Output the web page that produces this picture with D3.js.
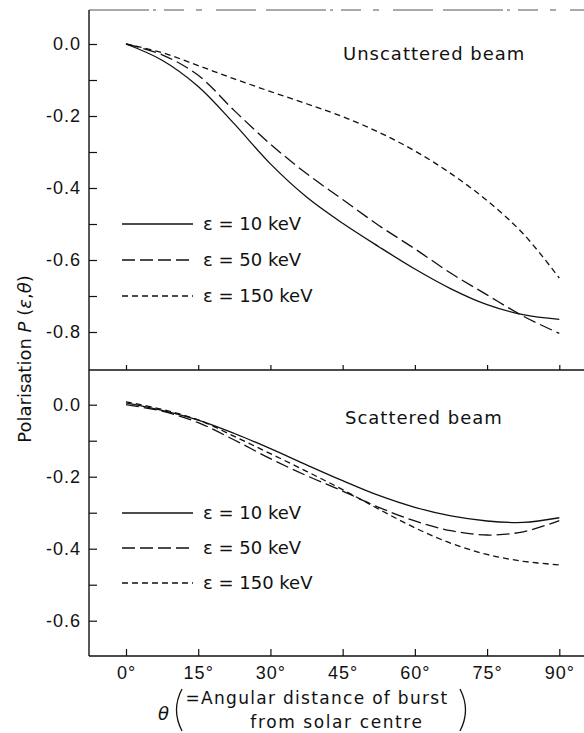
<!doctype html>
<html lang="en">
<head>
<meta charset="utf-8">
<title>Polarisation P(ε,θ)</title>
<script src="https://cdn.jsdelivr.net/npm/d3@7"></script>
<style>
  html, body { margin: 0; padding: 0; background: #fff; }
  svg { display: block; font-family: "DejaVu Sans", sans-serif; }
  .tick text { font-size: 18px; fill: #111; letter-spacing: 1px; }
  .tick line { stroke: #111; stroke-width: 1.2; }
</style>
</head>
<body>
<svg id="chart" width="584" height="733"></svg>
<script>
// angles in degrees, every 7.5 deg
var angles = [0, 7.5, 15, 22.5, 30, 37.5, 45, 52.5, 60, 67.5, 75, 82.5, 90];

// upper panel: unscattered beam
var unscat10  = [0, -0.045, -0.118, -0.222, -0.333, -0.425, -0.498, -0.563, -0.625, -0.68, -0.724, -0.752, -0.765];
var unscat50  = [0, -0.03, -0.087, -0.185, -0.278, -0.36, -0.432, -0.504, -0.569, -0.637, -0.697, -0.756, -0.804];
var unscat150 = [0, -0.024, -0.06, -0.097, -0.132, -0.166, -0.202, -0.245, -0.297, -0.36, -0.435, -0.527, -0.65];

// lower panel: scattered beam
var scat10  = [0.005, -0.016, -0.043, -0.08, -0.122, -0.167, -0.211, -0.252, -0.285, -0.309, -0.323, -0.327, -0.314];
var scat50  = [0, -0.018, -0.05, -0.098, -0.15, -0.197, -0.24, -0.285, -0.323, -0.35, -0.362, -0.353, -0.322];
var scat150 = [0.008, -0.013, -0.042, -0.088, -0.136, -0.185, -0.236, -0.29, -0.342, -0.385, -0.416, -0.435, -0.445];

var legendLabels = ["ε = 10 keV", "ε = 50 keV", "ε = 150 keV"];
var xTicks = [0, 15, 30, 45, 60, 75, 90];
var upperTicks = [0, -0.1, -0.2, -0.3, -0.4, -0.5, -0.6, -0.7, -0.8];
var lowerTicks = [0, -0.1, -0.2, -0.3, -0.4, -0.5, -0.6];

var dashes = [null, "13,5", "6,4"];

var svg = d3.select("#chart");
var ink = "#111";

var x = d3.scaleLinear().domain([0, 90]).range([126, 559.3]);
var axisX = 89, rightX = 584;

var yUp = d3.scaleLinear().domain([0, -0.8]).range([44, 332]);
var yLo = d3.scaleLinear().domain([0, -0.6]).range([404.7, 620.7]);

// only every second tick gets a label; plain hyphen as in the print
var fmt = function(d) {
  var r = Math.round(d * 10);
  if (r % 2 !== 0) return "";
  return r === 0 ? "0.0" : "-" + Math.abs(d).toFixed(1);
};

// top frame (faint, broken as in the print)
svg.append("line")
  .attr("x1", axisX).attr("x2", rightX).attr("y1", 10).attr("y2", 10)
  .attr("stroke", "#555").attr("stroke-width", 1)
  .attr("stroke-dasharray", "60,4,3,8,20,12,6,14,40,10");

// vertical axis line
svg.append("line")
  .attr("x1", axisX).attr("x2", axisX).attr("y1", 10).attr("y2", 656)
  .attr("stroke", ink).attr("stroke-width", 1.4);

// divider between panels, ticks pointing up
var mid = svg.append("g").attr("transform", "translate(0,370)")
  .call(d3.axisBottom(x).tickValues(xTicks).tickSize(-5).tickFormat(""));
mid.select(".domain").remove();
svg.append("line")
  .attr("x1", axisX).attr("x2", rightX).attr("y1", 370).attr("y2", 370)
  .attr("stroke", ink).attr("stroke-width", 1.4);

// bottom axis
var bot = svg.append("g").attr("transform", "translate(0,656)")
  .call(d3.axisBottom(x).tickValues(xTicks).tickSize(-7).tickPadding(10)
    .tickFormat(function(d) { return d + "°"; }));
bot.select(".domain").remove();
svg.append("line")
  .attr("x1", axisX).attr("x2", rightX).attr("y1", 656).attr("y2", 656)
  .attr("stroke", ink).attr("stroke-width", 1.4);

// y axes (ticks inside, labels outside)
function yAxis(scale, ticks) {
  var g = svg.append("g").attr("transform", "translate(" + axisX + ",0)")
    .call(d3.axisLeft(scale).tickValues(ticks).tickSize(-8).tickPadding(8).tickFormat(fmt));
  g.select(".domain").remove();
}
yAxis(yUp, upperTicks);
yAxis(yLo, lowerTicks);

// curves
function drawSeries(scale, series) {
  var line = d3.line()
    .x(function(d) { return x(d[0]); })
    .y(function(d) { return scale(d[1]); })
    .curve(d3.curveCatmullRom.alpha(0.5));
  series.forEach(function(vals, i) {
    svg.append("path")
      .datum(angles.map(function(a, j) { return [a, vals[j]]; }))
      .attr("d", line)
      .attr("fill", "none")
      .attr("stroke", ink)
      .attr("stroke-width", 1.3)
      .attr("stroke-dasharray", dashes[i]);
  });
}
drawSeries(yUp, [unscat10, unscat50, unscat150]);
drawSeries(yLo, [scat10, scat50, scat150]);

// legends
function legend(ys) {
  legendLabels.forEach(function(lab, i) {
    svg.append("line")
      .attr("x1", 122).attr("x2", 193).attr("y1", ys[i]).attr("y2", ys[i])
      .attr("stroke", ink).attr("stroke-width", 1.3)
      .attr("stroke-dasharray", dashes[i]);
    svg.append("text")
      .attr("x", 203).attr("y", ys[i] + 6)
      .attr("font-size", 18).attr("fill", ink)
      .text(lab);
  });
}
legend([224, 260, 296]);
legend([513, 548, 583]);

// panel titles
svg.append("text").attr("x", 343).attr("y", 60).attr("font-size", 18)
  .attr("letter-spacing", 1).attr("fill", ink).text("Unscattered beam");
svg.append("text").attr("x", 345).attr("y", 424).attr("font-size", 18)
  .attr("letter-spacing", 1).attr("fill", ink).text("Scattered beam");

// y title
var yt = svg.append("text")
  .attr("transform", "translate(31,359) rotate(-90)")
  .attr("text-anchor", "middle").attr("font-size", 18).attr("fill", ink);
yt.append("tspan").text("Polarisation ");
yt.append("tspan").attr("font-style", "italic").text("P");
yt.append("tspan").text(" (");
yt.append("tspan").attr("font-style", "italic").text("ε");
yt.append("tspan").text(",");
yt.append("tspan").attr("font-style", "italic").text("θ");
yt.append("tspan").text(")");

// x title
svg.append("text").attr("x", 158).attr("y", 720).attr("font-size", 18)
  .attr("font-style", "italic").attr("fill", ink).text("θ");
svg.append("text").attr("x", 317).attr("y", 704).attr("font-size", 17)
  .attr("letter-spacing", 1.3)
  .attr("text-anchor", "middle").attr("fill", ink).text("=Angular distance of burst");
svg.append("text").attr("x", 337).attr("y", 728).attr("font-size", 17)
  .attr("letter-spacing", 1.6)
  .attr("text-anchor", "middle").attr("fill", ink).text("from solar centre");
svg.append("path")
  .attr("d", "M182,689 Q171,710 182,731")
  .attr("fill", "none").attr("stroke", ink).attr("stroke-width", 1.3);
svg.append("path")
  .attr("d", "M460,689 Q471,710 460,731")
  .attr("fill", "none").attr("stroke", ink).attr("stroke-width", 1.3);
</script>
</body>
</html>
